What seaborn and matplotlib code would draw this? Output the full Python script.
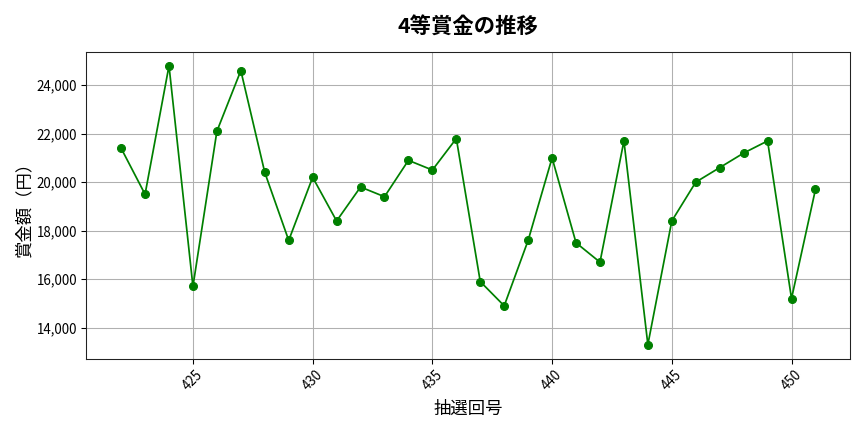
import matplotlib
matplotlib.use('Agg')
import matplotlib.pyplot as plt
import matplotlib.ticker as mticker
import seaborn as sns
import pandas as pd

draw_numbers = list(range(422, 452))
prize_values = [
    21400, 19500, 24800, 15700, 22100, 24600, 20400, 17600, 20200, 18400,
    19800, 19400, 20900, 20500, 21800, 15900, 14900, 17600, 21000, 17500,
    16700, 21700, 13300, 18400, 20000, 20600, 21200, 21700, 15200, 19700,
]

sns.set_style('ticks', rc={'text.color': 'black', 'axes.labelcolor': 'black',
                           'xtick.color': 'black', 'ytick.color': 'black',
                           'axes.edgecolor': '#222222'})
plt.rcParams['font.family'] = ['Noto Sans CJK JP', 'DejaVu Sans']

df = pd.DataFrame({'draw': draw_numbers, 'prize': prize_values})

fig, ax = plt.subplots(figsize=(9, 4.5), dpi=96)
sns.lineplot(data=df, x='draw', y='prize', ax=ax, color='green',
             marker='o', markersize=6, markeredgecolor='green', linewidth=1.3)

ax.set_title('4等賞金の推移', fontsize=16, fontweight='bold', pad=14)
ax.set_xlabel('抽選回号', fontsize=13, labelpad=5)
ax.set_ylabel('賞金額（円）', fontsize=13, labelpad=2)
ax.yaxis.set_major_formatter(mticker.FuncFormatter(lambda v, p: f'{int(v):,}'))
ax.tick_params(axis='x', rotation=45)
ax.grid(True, color='#b0b0b0', linewidth=0.8)

plt.tight_layout()
fig.subplots_adjust(left=0.1, right=0.984, top=0.88, bottom=0.17)
plt.savefig('out.png', dpi=96)
